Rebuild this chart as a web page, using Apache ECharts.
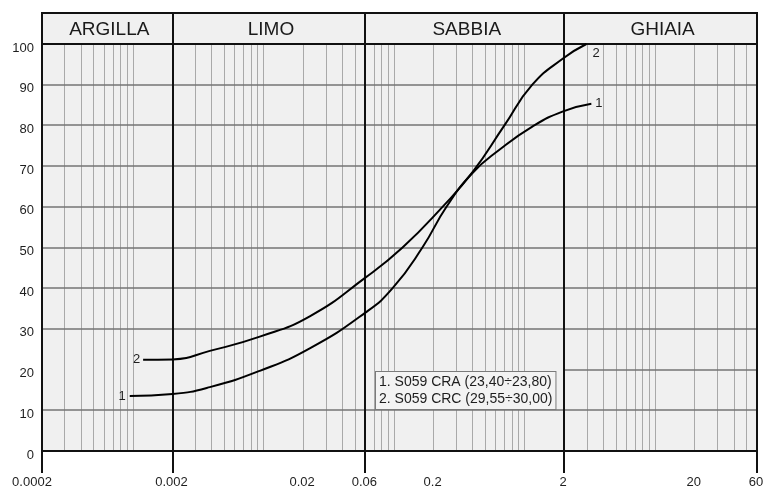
<!DOCTYPE html>
<html><head><meta charset="utf-8">
<script src="https://cdn.jsdelivr.net/npm/echarts@6/dist/echarts.min.js"></script>
<style>html,body{margin:0;padding:0;background:#fff}#c{width:766px;height:488px}</style>
</head><body><div id="c"></div>
<script>
// ---------- data ----------
const xMin = 0.0002, xMax = 60;
const headerTop = 107.62;               // top of the class header band (y units)
const yTickValues = [0, 10, 20, 30, 40, 50, 60, 70, 80, 90, 100];
const xTickValues = [0.0002, 0.002, 0.02, 0.06, 0.2, 2, 20, 60];
const xTickLabels = ['0.0002', '0.002', '0.02', '0.06', '0.2', '2', '20', '60'];
const classBounds = [0.0002, 0.002, 0.06, 2, 60];
const classNames = ['ARGILLA', 'LIMO', 'SABBIA', 'GHIAIA'];
const gridY = [10, 20, 30, 40, 50, 60, 70, 80, 90];
const gridYStartX = {20: 2};            // y=20 line only drawn from x=2
const curveNames = ['1. S059 CRA (23,40÷23,80)', '2. S059 CRC (29,55÷30,00)'];
const curveTags = ['1', '2'];
const curve1X = [0.00094, 0.002, 0.00386, 0.00932, 0.0225, 0.06, 0.097, 0.164, 0.251, 0.397, 0.638, 1.14, 1.94, 3.23];
const curve1Y = [13.5, 14.0, 15.7, 19.7, 25.2, 34.0, 40, 50, 60, 68.3, 74.0, 79.7, 83.4, 85.3];
const curve2X = [0.00119, 0.002, 0.00386, 0.00932, 0.0225, 0.06, 0.1156, 0.234, 0.397, 0.697, 1.14, 1.97, 2.96];
const curve2Y = [22.4, 22.5, 24.6, 28.1, 33.1, 42.6, 50, 60, 68.5, 80, 90, 96.5, 100];

// ---------- styles ----------
const FONT = '"Liberation Sans", Arial, sans-serif';
const labelShift = {'0.0002': -10};

const chart = echarts.init(document.getElementById('c'), null, {renderer: 'canvas'});

function nearlyIn(v, arr) { return arr.some(a => Math.abs(Math.log10(v / a)) < 1e-6); }
const minorX = [];
for (let k = -4; k <= 1; k++) for (let m = 1; m <= 9; m++) {
  const v = m * Math.pow(10, k);
  if (v > xMin * 1.0001 && v < xMax * 0.9999 && !nearlyIn(v, classBounds)) minorX.push(v);
}

function ln(x1, y1, x2, y2, stroke, w) {
  return {type: 'line', silent: true, shape: {x1, y1, x2, y2}, style: {stroke, lineWidth: w}};
}
function renderDecor(params, api) {
  const P = (x, y) => api.coord([x, y]);
  const ch = [];
  const bot = P(xMin, 0)[1], y100 = P(xMin, 100)[1], top = P(xMin, headerTop)[1];
  minorX.forEach(v => {
    const x = Math.floor(P(v, 0)[0]) + 0.5;
    ch.push(ln(x, bot, x, y100, '#a9a9a9', 1));
  });
  gridY.forEach(v => {
    const y = Math.round(P(xMin, v)[1]);
    const x0 = P(gridYStartX[v] || xMin, v)[0];
    ch.push(ln(x0, y, P(xMax, v)[0], y, '#747474', 1.5));
  });
  ch.push(ln(P(xMin, 100)[0], Math.round(y100), P(xMax, 100)[0], Math.round(y100), '#111', 2));
  classBounds.forEach(v => {
    const x = Math.round(P(v, 0)[0]);
    ch.push(ln(x, top, x, bot + 22, '#111', 2));
  });
  classNames.forEach((n, i) => {
    const a = P(classBounds[i], headerTop), b = P(classBounds[i + 1], 100);
    ch.push({type: 'text', silent: true, style: {text: n, x: (a[0] + b[0]) / 2 + 2, y: (a[1] + b[1]) / 2 + 1,
      align: 'center', verticalAlign: 'middle', font: '19px ' + FONT, fill: '#1a1a1a'}});
  });
  xTickValues.forEach((v, i) => {
    const p = P(v, 0);
    ch.push({type: 'text', silent: true, style: {text: xTickLabels[i], x: p[0] + (labelShift[xTickLabels[i]] || -1),
      y: p[1] + 25, align: 'center', verticalAlign: 'top', font: '13px ' + FONT, fill: '#1e1e1e'}});
  });
  yTickValues.forEach(v => {
    const p = P(xMin, v);
    ch.push({type: 'text', silent: true, style: {text: String(v), x: p[0] - 8, y: p[1] + 4,
      align: 'right', verticalAlign: 'middle', font: '13px ' + FONT, fill: '#1e1e1e'}});
  });
  const tl = P(xMin, headerTop), br = P(xMax, 0);
  ch.push({type: 'rect', silent: true, shape: {x: Math.round(tl[0]), y: Math.round(tl[1]), width: Math.round(br[0] - tl[0]), height: Math.round(br[1] - tl[1])},
    style: {fill: null, stroke: '#111', lineWidth: 2}});
  return {type: 'group', children: ch};
}

function curveData(xs, ys, tag, startLbl, endLbl) {
  return xs.map((x, i) => {
    const item = {value: [x, ys[i]]};
    if (i === 0) item.label = Object.assign({show: true, formatter: tag}, startLbl);
    if (i === xs.length - 1) item.label = Object.assign({show: true, formatter: tag}, endLbl);
    return item;
  });
}
const lineBase = {
  type: 'line', smooth: 0.5, showSymbol: true, showAllSymbol: true, symbol: 'circle', symbolSize: 0,
  lineStyle: {color: '#000', width: 2}, itemStyle: {color: '#000'},
  label: {show: false, color: '#1e1e1e', fontSize: 13, fontFamily: FONT},
  emphasis: {disabled: true}, silent: true, z: 3, clip: false, animation: false
};

chart.setOption({
  animation: false,
  grid: {left: 42, right: 9, top: 13, bottom: 37, show: true, backgroundColor: '#f0f0f0', borderWidth: 0},
  xAxis: {type: 'log', logBase: 10, min: xMin, max: xMax,
    axisLine: {show: false}, axisTick: {show: false}, axisLabel: {show: false}, splitLine: {show: false}},
  yAxis: {type: 'value', min: 0, max: headerTop, interval: 10,
    axisLine: {show: false}, axisTick: {show: false}, splitLine: {show: false}, axisLabel: {show: false}},
  series: [
    {type: 'custom', silent: true, z: 1, renderItem: renderDecor, data: [[xMin, 0]], animation: false},
    Object.assign({}, lineBase, {name: curveNames[0],
      data: curveData(curve1X, curve1Y, curveTags[0], {position: 'left', distance: 4}, {position: 'right', distance: 4})}),
    Object.assign({}, lineBase, {name: curveNames[1],
      data: curveData(curve2X, curve2Y, curveTags[1], {position: 'left', distance: 3}, {position: 'right', distance: 6, offset: [0, 9]})})
  ],
  graphic: [{type: 'text', silent: true, z: 100, x: 376, y: 372,
    style: {text: curveNames.join('\n'), font: '14px ' + FONT, fill: '#1e1e1e', lineHeight: 17,
      backgroundColor: '#f3f3f3', borderColor: '#7a7a7a', borderWidth: 1, padding: [2, 3, 1, 3]}}]
});
</script></body></html>
